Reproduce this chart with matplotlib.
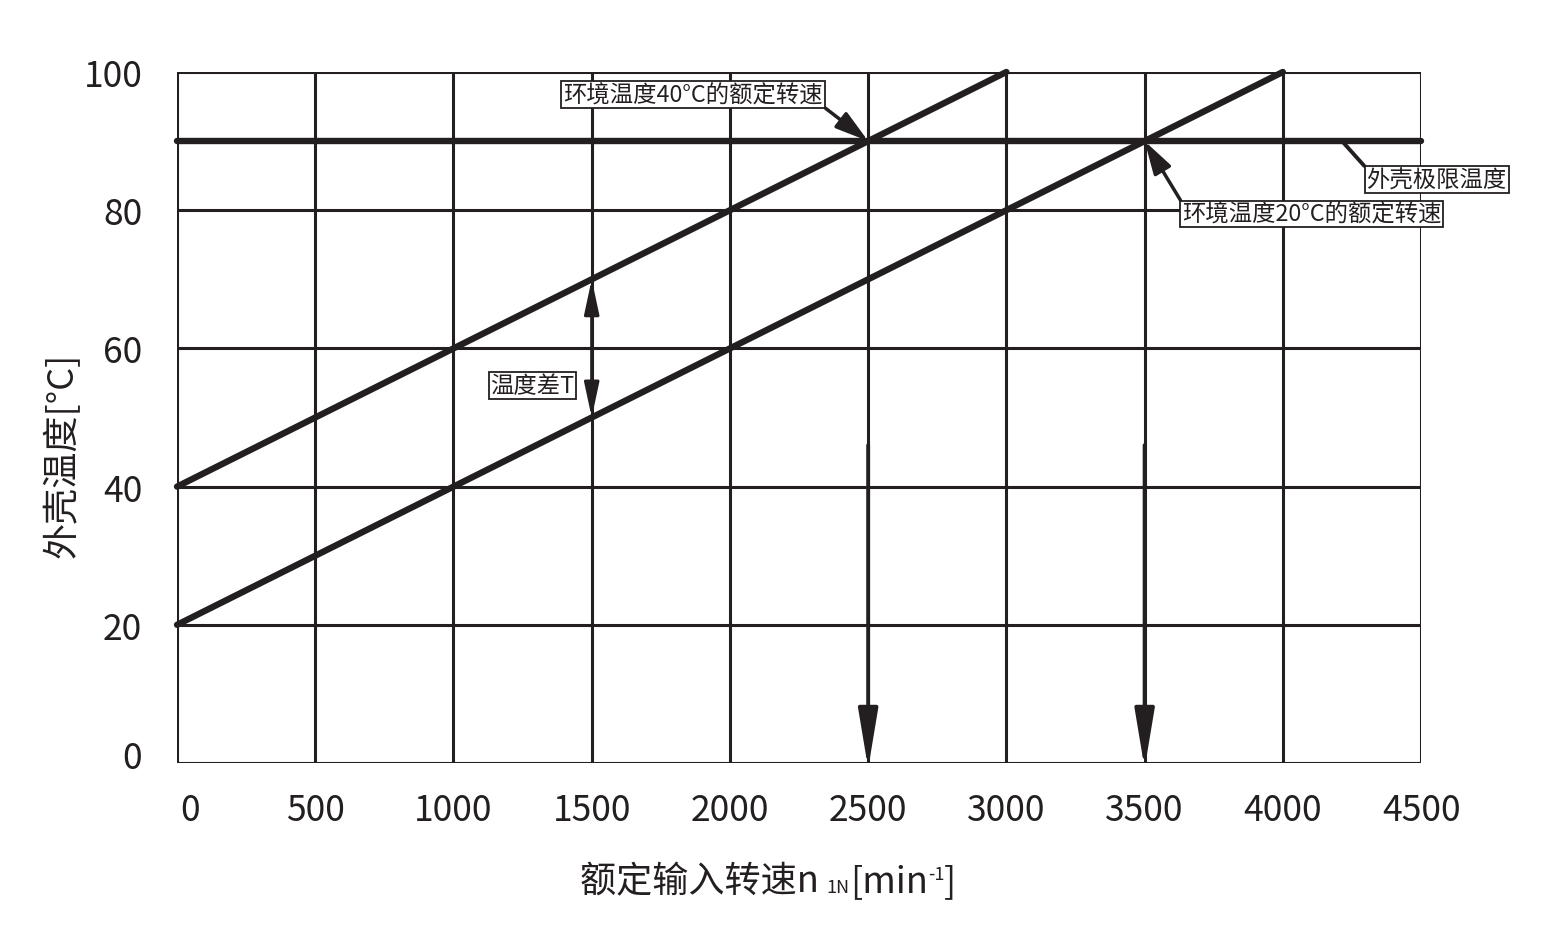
import matplotlib
matplotlib.use("Agg")
import matplotlib.pyplot as plt
import matplotlib.transforms as mtransforms
from matplotlib.patches import FancyArrowPatch

plt.rcParams['font.family'] = ['Noto Sans CJK SC', 'DejaVu Sans']

INK = '#231f20'

# --- data ---
speed_40 = [0, 3000]          # ambient 40°C line
temp_40 = [40, 100]
speed_20 = [0, 4000]          # ambient 20°C line
temp_20 = [20, 100]
limit_temp = 90
rated_40 = 2500
rated_20 = 3500
diff_x = 1500
diff_top, diff_bottom = 70, 50
xticks = [0, 500, 1000, 1500, 2000, 2500, 3000, 3500, 4000, 4500]
yticks = [0, 20, 40, 60, 80, 100]

fig = plt.figure(figsize=(15.57, 9.37), dpi=100)
ax = fig.add_axes([0.1137, 0.1846, 0.799, 0.7375])
ax.set_xlim(0, 4500)
ax.set_ylim(0, 100)

# grid
for x in xticks:
    ax.axvline(x, color=INK, lw=2.2, zorder=1)
for y in yticks:
    ax.axhline(y, color=INK, lw=2.2, zorder=1)
for s in ax.spines.values():
    s.set_visible(False)

ax.set_xticks(xticks)
ax.set_yticks(yticks)
ax.tick_params(length=0, labelsize=25.5, colors=INK)
ax.tick_params(axis='x', pad=21)
ax.tick_params(axis='y', pad=25)

# nudge the corner zeros away from each other
lx0 = ax.get_xticklabels()[0]
lx0.set_transform(lx0.get_transform() + mtransforms.ScaledTranslation(13/100, 0, fig.dpi_scale_trans))
ly0 = ax.get_yticklabels()[0]
ly0.set_transform(ly0.get_transform() + mtransforms.ScaledTranslation(0, 9/100, fig.dpi_scale_trans))

# main curves
ax.plot(speed_40, temp_40, color=INK, lw=4.6, solid_capstyle='round', zorder=3, clip_on=False)
ax.plot(speed_20, temp_20, color=INK, lw=4.6, solid_capstyle='round', zorder=3, clip_on=False)
ax.plot([0, 4500], [limit_temp, limit_temp], color=INK, lw=4.6, solid_capstyle='round', zorder=3, clip_on=False)

# vertical arrows down to the speed axis
for xr in (rated_40, rated_20):
    arr = FancyArrowPatch((xr, 46), (xr, -0.8), arrowstyle='-|>,head_length=36,head_width=6',
                          mutation_scale=1, color=INK, lw=2.8, shrinkA=0, shrinkB=0, zorder=4,
                          clip_on=False)
    ax.add_patch(arr)

# temperature difference arrow
arr = FancyArrowPatch((diff_x, diff_bottom), (diff_x, diff_top), arrowstyle='<|-|>,head_length=21,head_width=4.5',
                      mutation_scale=1, color=INK, lw=2.2, shrinkA=0, shrinkB=0, zorder=4)
ax.add_patch(arr)

box = dict(boxstyle='square,pad=0.08', fc='white', ec=INK, lw=1.3)
fs_note = 16.8

ax.annotate('环境温度40°C的额定转速', xy=(rated_40, limit_temp), xytext=(1867, 96.7),
            ha='center', va='center', fontsize=fs_note, color=INK, bbox=box, zorder=5,
            arrowprops=dict(arrowstyle='-|>,head_length=1.2,head_width=0.35', color=INK, lw=2.5,
                            relpos=(1, 0), shrinkA=0, shrinkB=0))
ax.annotate('环境温度20°C的额定转速', xy=(rated_20, limit_temp), xytext=(4104, 79.45),
            ha='center', va='center', fontsize=fs_note, color=INK, bbox=box, zorder=5,
            arrowprops=dict(arrowstyle='-|>,head_length=1.2,head_width=0.35', color=INK, lw=2.5,
                            relpos=(0, 1), shrinkA=0, shrinkB=0))
ax.annotate('外壳极限温度', xy=(4214, limit_temp), xytext=(4556, 84.4),
            ha='center', va='center', fontsize=fs_note, color=INK, bbox=box, zorder=5,
            arrowprops=dict(arrowstyle='-', color=INK, lw=2.8, relpos=(0, 1), shrinkA=0, shrinkB=0))
ax.text(1286, 54.6, '温度差T', ha='center', va='center', fontsize=fs_note, color=INK, bbox=box, zorder=5)

# x label built from pieces (subscript 1N, superscript -1)
renderer = fig.canvas.get_renderer()
pieces = [('额定输入转速n ', 26, 0), ('1N', 13, -1), ('[min', 26, 0), ('-1', 13, 12), (']', 26, 0)]
widths = []
for s, fs, dy in pieces:
    t = fig.text(0, 0, s, fontsize=fs)
    widths.append(t.get_window_extent(renderer).width)
    t.remove()
x_px = 768 - sum(widths) / 2
base_px = 937 - 892
for (s, fs, dy), w in zip(pieces, widths):
    fig.text(x_px / 1557, (base_px + dy) / 937, s, fontsize=fs, color=INK, ha='left', va='baseline')
    x_px += w

fig.text(0.040, 0.514, '外壳温度[°C]', ha='center', va='center', rotation=90, fontsize=26, color=INK)

fig.savefig('out.png', dpi=100, facecolor='white')
